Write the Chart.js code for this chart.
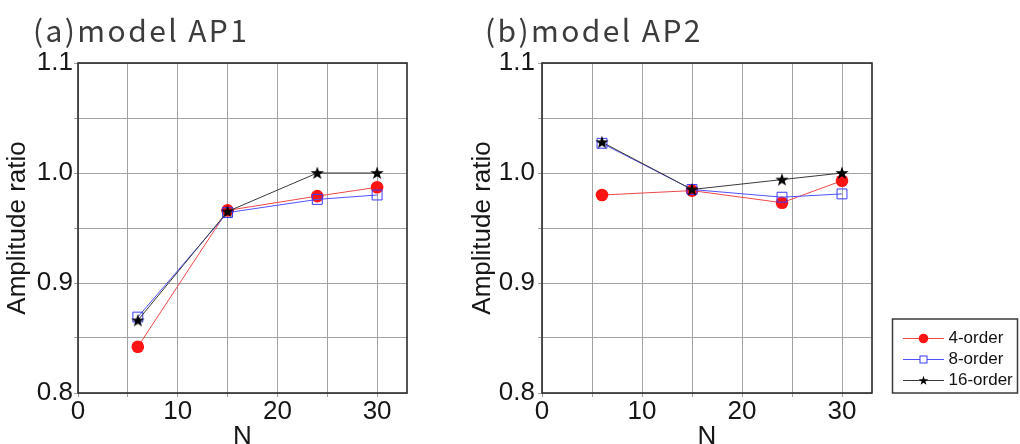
<!DOCTYPE html>
<html>
<head>
<meta charset="utf-8">
<script src="https://cdn.jsdelivr.net/npm/chart.js@4/dist/chart.umd.min.js"></script>
<style>
  html, body { margin: 0; padding: 0; background: #fff; overflow: hidden; width: 1020px; height: 444px; }
  .panel { position: absolute; top: 0; }
  #wrapA { left: 0; width: 420px; height: 460px; }
  #wrapB { left: 470px; width: 550px; height: 460px; }
</style>
</head>
<body>
<div class="panel" id="wrapA"><canvas id="ap1" width="420" height="460"></canvas></div>
<div class="panel" id="wrapB"><canvas id="ap2" width="550" height="460"></canvas></div>
<script>
// Filter order comparison: amplitude ratio vs. N
const N = [6, 15, 24, 30];

const ap1Order4  = [0.842, 0.966, 0.979, 0.987];
const ap1Order8  = [0.869, 0.964, 0.976, 0.980];
const ap1Order16 = [0.866, 0.965, 1.000, 1.000];

const ap2Order4  = [0.980, 0.984, 0.973, 0.993];
const ap2Order8  = [1.027, 0.985, 0.978, 0.981];
const ap2Order16 = [1.028, 0.985, 0.994, 1.000];

const seriesLabels = ['4-order', '8-order', '16-order'];
const panelTitles = ['(a)model AP1', '(b)model AP2'];
const yTickLabels = ['0.8', '0.9', '1.0', '1.1'];
const xTickLabels = ['0', '10', '20', '30'];
const xGridValues = [0, 5, 10, 15, 20, 25, 30];
const xAxisTitle = 'N';
const yAxisTitle = 'Amplitude ratio';

const RED = '#ff1414', RED_LINE = '#f04848';
const BLUE = '#3a3aff', BLUE_LINE = '#5050ff';
const BLACK = '#000000', BLACK_LINE = '#3a3a3a';
const TICK_FONT = { family: "'Liberation Sans', Arial, sans-serif", size: 26, lineHeight: 1 };

// filled five-point star used as a marker
function drawStar(g, cx, cy, R, r, color) {
  g.beginPath();
  for (let i = 0; i < 10; i++) {
    const a = -Math.PI / 2 + i * Math.PI / 5;
    const rad = i % 2 ? r : R;
    g.lineTo(cx + rad * Math.cos(a), cy + rad * Math.sin(a));
  }
  g.closePath();
  g.fillStyle = color;
  g.fill();
}
function starImage() {
  const c = document.createElement('canvas');
  c.width = 16; c.height = 16;
  drawStar(c.getContext('2d'), 8, 8.4, 7, 2.8, BLACK);
  return c;
}
const starMarker = starImage();

// legend swatch: short line with the series marker in the middle
function swatch(kind, lineColor, markColor) {
  const c = document.createElement('canvas');
  c.width = 72; c.height = 21;
  const g = c.getContext('2d');
  g.strokeStyle = lineColor; g.lineWidth = 1;
  g.beginPath(); g.moveTo(31, 10.5); g.lineTo(72, 10.5); g.stroke();
  const cx = 51.5, cy = 10.5;
  if (kind === 'circle') {
    g.beginPath(); g.arc(cx, cy, 4.8, 0, Math.PI * 2);
    g.fillStyle = markColor; g.fill();
  } else if (kind === 'square') {
    g.fillStyle = '#fff'; g.fillRect(cx - 3.5, cy - 3.5, 7, 7);
    g.strokeStyle = markColor; g.strokeRect(cx - 3.5, cy - 3.5, 7, 7);
  } else {
    drawStar(g, cx, cy + 0.3, 5, 2, markColor);
  }
  return c;
}
const legendSwatches = [
  swatch('circle', RED_LINE, RED),
  swatch('square', BLUE_LINE, BLUE),
  swatch('star', BLACK_LINE, BLACK)
];

const pts = (vals) => vals.map((y, i) => ({ x: N[i], y }));

function makeDatasets(o4, o8, o16) {
  return [
    { label: seriesLabels[0], data: pts(o4), borderColor: RED_LINE, borderWidth: 1,
      pointStyle: 'circle', pointRadius: 6.3, pointBorderWidth: 0,
      pointBackgroundColor: RED, order: 2 },
    { label: seriesLabels[1], data: pts(o8), borderColor: BLUE_LINE, borderWidth: 1,
      pointStyle: 'rect', pointRadius: 7, pointBorderWidth: 1,
      pointBackgroundColor: 'rgba(0,0,0,0)', pointBorderColor: BLUE, order: 1 },
    { label: seriesLabels[2], data: pts(o16), borderColor: BLACK_LINE, borderWidth: 1,
      pointStyle: starMarker, pointRadius: 7, order: 0 }
  ];
}

// panel heading drawn on the canvas
const panelTitle = {
  id: 'panelTitle',
  afterDraw(chart, args, o) {
    const ctx = chart.ctx;
    ctx.save();
    ctx.font = `${o.size}px ${o.family}`;
    ctx.fillStyle = o.color;
    if ('letterSpacing' in ctx) ctx.letterSpacing = o.spacing + 'px';
    ctx.textAlign = 'left';
    ctx.textBaseline = 'alphabetic';
    ctx.fillText(o.text, o.x, o.y);
    ctx.restore();
  }
};

// closed frame around the plotting area
const plotFrame = {
  id: 'plotFrame',
  beforeDatasetsDraw(chart, args, o) {
    const { left, top, right, bottom } = chart.chartArea;
    const ctx = chart.ctx;
    ctx.save();
    ctx.strokeStyle = o.color;
    ctx.lineWidth = o.width;
    ctx.strokeRect(left, top, right - left, bottom - top);
    ctx.restore();
  }
};

// outline around the legend entries
const legendBox = {
  id: 'legendBox',
  afterDraw(chart, args, o) {
    if (!o.show || !chart.legend) return;
    const lg = chart.legend;
    const ctx = chart.ctx;
    const x0 = lg.left + 20.5, y0 = lg.bottom - 74;
    ctx.save();
    ctx.strokeStyle = '#3a3a3a';
    ctx.lineWidth = 1.5;
    ctx.strokeRect(x0, y0, chart.width - 2.5 - x0, lg.bottom - y0);
    ctx.restore();
  }
};

function makeConfig(opt) {
  return {
    type: 'line',
    data: { datasets: makeDatasets(opt.o4, opt.o8, opt.o16) },
    plugins: [panelTitle, plotFrame, legendBox],
    options: {
      responsive: false,
      animation: false,
      events: [],
      layout: { padding: { top: 63, left: 0, right: opt.padRight, bottom: 0 } },
      elements: { line: { tension: 0 } },
      scales: {
        x: {
          type: 'linear', min: 0, max: 33,
          afterBuildTicks: (s) => { s.ticks = xGridValues.map(v => ({ value: v })); },
          afterFit: (s) => { s.height = 67; },
          ticks: {
            autoSkip: false, maxRotation: 0, padding: 2, color: '#161616', font: TICK_FONT,
            callback: (v) => xTickLabels.includes(String(v)) ? String(v) : ''
          },
          grid: { color: '#a3a3a3', lineWidth: 1, tickLength: 4, tickColor: '#a3a3a3' },
          border: { display: false },
          title: { display: true, text: xAxisTitle, color: '#161616', font: TICK_FONT, padding: { top: 0, bottom: 10 } }
        },
        y: {
          type: 'linear', min: 0.8, max: 1.1,
          afterFit: (s) => { s.width = opt.yWidth; },
          ticks: {
            stepSize: 0.05, autoSkip: false, padding: opt.yTickPad, color: '#161616', font: TICK_FONT,
            callback: (v) => { const s = Number(v).toFixed(1); return (yTickLabels.includes(s) && Math.abs(v - Number(s)) < 1e-6) ? s : ''; }
          },
          grid: { color: '#a3a3a3', lineWidth: 1, tickLength: 4, tickColor: '#a3a3a3' },
          border: { display: false },
          title: { display: true, text: yAxisTitle, color: '#161616', font: TICK_FONT, padding: { top: opt.yTitlePad, bottom: 0 } }
        }
      },
      plugins: {
        tooltip: { enabled: false },
        title: { display: false },
        legend: {
          display: opt.legend,
          position: 'right',
          align: 'end',
          fullSize: false,
          maxWidth: 148,
          labels: {
            usePointStyle: true,
            pointStyleWidth: 64,
            padding: 4,
            color: '#111',
            font: { family: "'Liberation Sans', Arial, sans-serif", size: 17 },
            sort: (a, b) => a.datasetIndex - b.datasetIndex,
            generateLabels: (chart) => Chart.defaults.plugins.legend.labels.generateLabels(chart)
              .map(item => Object.assign(item, { pointStyle: legendSwatches[item.datasetIndex], lineWidth: 0 }))
          }
        },
        panelTitle: { text: opt.title, x: opt.titleX, y: 42, size: 30, spacing: 2.4,
                      family: "'Noto Sans CJK JP', 'Noto Sans', sans-serif", color: '#3c3c3c' },
        plotFrame: { color: '#2a2a2a', width: 1.6 },
        legendBox: { show: opt.legend }
      }
    }
  };
}

new Chart(document.getElementById('ap1'), makeConfig({
  o4: ap1Order4, o8: ap1Order8, o16: ap1Order16,
  title: panelTitles[0], titleX: 33, yWidth: 78, padRight: 13,
  yTickPad: 1, yTitlePad: 5, legend: false
}));

new Chart(document.getElementById('ap2'), makeConfig({
  o4: ap2Order4, o8: ap2Order8, o16: ap2Order16,
  title: panelTitles[1], titleX: 15, yWidth: 72, padRight: 0,
  yTickPad: 3, yTitlePad: 0, legend: true
}));
</script>
</body>
</html>
